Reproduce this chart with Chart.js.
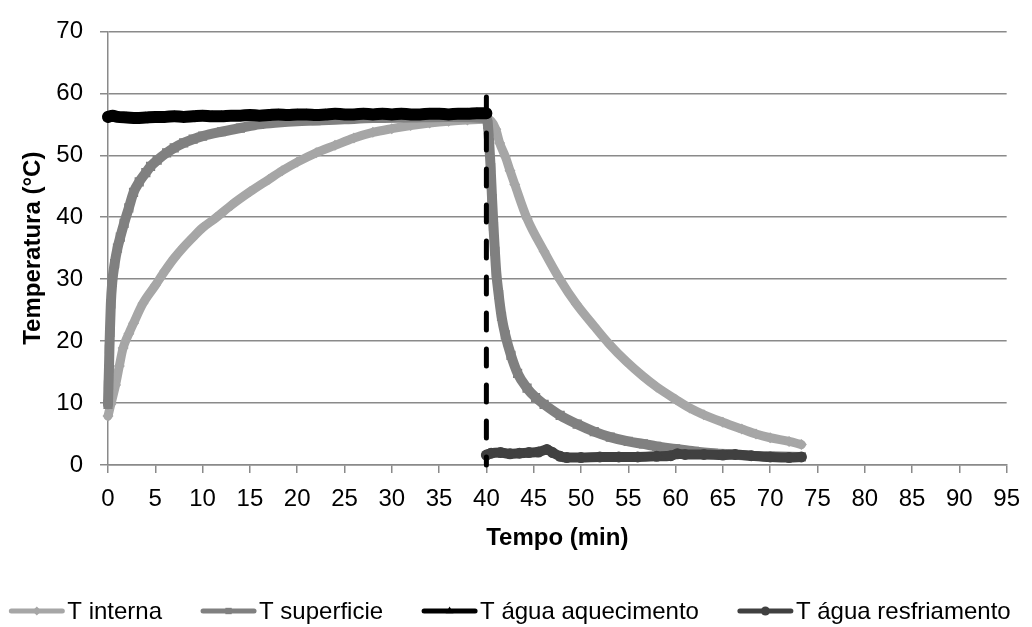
<!DOCTYPE html>
<html lang="pt">
<head>
<meta charset="utf-8">
<title>Temperatura x Tempo</title>
<script src="https://cdn.jsdelivr.net/npm/chart.js@4.4.1/dist/chart.umd.min.js"></script>
<style>
  html, body { margin: 0; padding: 0; background: #ffffff; }
  #grafico { display: block; }
</style>
</head>
<body>
<canvas id="grafico" width="1032" height="627"></canvas>
<script>
// ---- Dados (tempo em min, temperatura em °C) ----
const rotulosSeries = ['T interna', 'T superficie', 'T água aquecimento', 'T água resfriamento'];

const internaTempo = [0, 0.3, 0.8, 1.2, 1.6, 2.2, 2.7, 3.7, 5, 6, 7, 8, 9, 10, 11.4, 13, 15, 17, 18.4, 20,
  22, 24, 26, 28, 30, 32, 34, 36, 38, 40,
  40.5, 41, 41.4, 42, 42.5, 43, 44.3, 46.1, 47.8, 49.5, 51.4, 53, 54.8, 56.5, 58, 60, 61.5, 63, 65, 67,
  68.5, 70, 72, 73.3];
const internaValor = [7.9, 9.8, 12.9, 16, 18.9, 21.2, 22.9, 26.1, 29, 31.3, 33.4, 35.2, 36.8, 38.3, 39.9, 41.9, 44.1, 46.1, 47.5, 48.9,
  50.4, 51.6, 52.8, 53.7, 54.3, 54.8, 55.2, 55.5, 55.7, 55.8,
  55.5, 54.2, 52, 49.8, 47.5, 45.3, 39.8, 34.5, 29.9, 26, 22.4, 19.5, 16.7, 14.4, 12.6, 10.6, 9.2, 8.1, 6.9, 5.8,
  5.0, 4.4, 3.8, 3.3];

const superficieTempo = [0, 0.05, 0.1, 0.15, 0.2, 0.3, 0.45, 0.7, 1, 1.3, 1.7, 2.2, 2.7, 3.3, 4, 4.5, 5.2, 6.2, 7, 8,
  9, 10, 12, 14, 16, 18, 20, 22, 25, 28, 32, 36, 40,
  40.15, 40.3, 40.45, 40.6, 40.75, 40.9, 41.05, 41.3, 41.6, 42, 42.6, 43.3, 44.3, 45.2, 46.1, 47.8, 49.6, 51.4,
  53.1, 55, 56.6, 58, 60, 62, 64, 66, 68, 70, 73.3];
const superficieValor = [9.8, 12.9, 15.5, 18.7, 21.4, 26, 29.5, 32.5, 35, 36.8, 39, 41.5, 44, 45.7, 47.2, 48.2, 49.2, 50.4, 51.2, 52,
  52.6, 53.1, 53.8, 54.4, 55, 55.3, 55.5, 55.6, 55.8, 56, 56.1, 56.2, 56,
  55, 52, 48, 43, 38.5, 34.5, 31, 27.5, 24, 21, 17.7, 14.8, 12.4, 10.9, 9.8, 8.0, 6.6, 5.4,
  4.5, 3.8, 3.4, 3.0, 2.6, 2.2, 1.9, 1.7, 1.5, 1.4, 1.3];

const aquecimentoTempo = [0, 0.5, 1, 2, 3, 4, 5, 6, 7, 8, 9, 10, 11, 12, 13, 14, 15, 16, 17, 18, 19, 20,
  21, 22, 23, 24, 25, 26, 27, 28, 29, 30, 31, 32, 33, 34, 35, 36, 37, 38, 39, 40];
const aquecimentoValor = [56.2, 56.4, 56.2, 56.1, 56.0, 56.1, 56.2, 56.2, 56.3, 56.2, 56.3, 56.4, 56.3, 56.3, 56.4, 56.4, 56.5, 56.4, 56.5, 56.6, 56.5, 56.6,
  56.6, 56.5, 56.6, 56.7, 56.6, 56.6, 56.7, 56.6, 56.7, 56.6, 56.7, 56.6, 56.6, 56.7, 56.7, 56.6, 56.7, 56.7, 56.8, 56.8];

const resfriamentoTempo = [40, 40.5, 41.5, 42.5, 43.5, 44.5, 45.5, 46.4, 47, 47.8, 48.5, 50, 52, 54, 56, 58, 59.5,
  60.2, 61, 63, 65, 66.3, 68, 70, 72, 73.3];
const resfriamentoValor = [1.6, 1.9, 2.0, 1.8, 1.9, 2.0, 2.1, 2.5, 2.0, 1.4, 1.2, 1.2, 1.3, 1.3, 1.3, 1.4, 1.5,
  1.8, 1.7, 1.7, 1.6, 1.7, 1.5, 1.3, 1.2, 1.3];

// linha tracejada que marca a troca de banho
const trocaTempo = [40, 40];
const trocaValor = [59.4, 0];

const eixoXTicks = { min: 0, max: 95, passo: 5 };
const eixoYTicks = { min: 0, max: 70, passo: 10 };

// ---- Estilo ----
const FONTE = '"Liberation Sans", Arial, sans-serif';
const COR_GRADE = '#8a8a8a';
const cores = ['#a6a6a6', '#808080', '#000000', '#404040'];
const marcadores = ['rectRot', 'rect', 'triangle', 'circle'];

function pares(xs, ys) {
  return xs.map((x, i) => ({ x: x, y: ys[i] }));
}

function serie(indice, xs, ys, espessura, raio, ordem) {
  return {
    label: rotulosSeries[indice],
    data: pares(xs, ys),
    borderColor: cores[indice],
    backgroundColor: cores[indice],
    borderWidth: espessura,
    pointStyle: marcadores[indice],
    pointRadius: raio,
    pointBorderWidth: 0,
    pointBackgroundColor: cores[indice],
    pointHoverRadius: raio,
    cubicInterpolationMode: 'monotone',
    borderJoinStyle: 'round',
    borderCapStyle: 'round',
    order: ordem,
    clip: 10
  };
}

// Legenda desenhada na base do canvas: amostra de linha com marcador + texto
const legendaInferior = {
  id: 'legendaInferior',
  afterDraw(chart) {
    const ctx = chart.ctx;
    const itens = chart.data.datasets
      .map((d, i) => ({ d: d, i: i }))
      .filter(o => o.d.emLegenda)
      .sort((a, b) => a.d.posLegenda - b.d.posLegenda);
    const comprLinha = 55, folgaTexto = 3, folgaItens = 39;
    ctx.save();
    ctx.font = '24px ' + FONTE;
    const larguras = itens.map(o => comprLinha + folgaTexto + ctx.measureText(o.d.label).width);
    const total = larguras.reduce((a, b) => a + b, 0) + folgaItens * (itens.length - 1);
    let x = (chart.width - total) / 2 - 6;
    const y = chart.height - 16;
    itens.forEach((o, k) => {
      const d = o.d;
      ctx.strokeStyle = d.borderColor;
      ctx.lineWidth = 5;
      ctx.lineCap = 'round';
      ctx.beginPath();
      ctx.moveTo(x + 2, y);
      ctx.lineTo(x + comprLinha - 2, y);
      ctx.stroke();
      ctx.fillStyle = d.borderColor;
      Chart.helpers.drawPoint(ctx, { pointStyle: d.pointStyle, radius: 4.5, rotation: 0, borderWidth: 0 },
        x + comprLinha / 2, y);
      ctx.fillStyle = '#000000';
      ctx.textBaseline = 'middle';
      ctx.textAlign = 'left';
      ctx.fillText(d.label, x + comprLinha + folgaTexto, y + 1);
      x += larguras[k] + folgaItens;
    });
    ctx.restore();
  }
};

const conjuntos = [
  Object.assign(serie(0, internaTempo, internaValor, 9, 5.5, 4), { emLegenda: true, posLegenda: 0 }),
  Object.assign(serie(1, superficieTempo, superficieValor, 10, 6.5, 3), { emLegenda: true, posLegenda: 1 }),
  Object.assign(serie(2, aquecimentoTempo, aquecimentoValor, 12, 6, 2), { emLegenda: true, posLegenda: 2 }),
  Object.assign(serie(3, resfriamentoTempo, resfriamentoValor, 10, 5.5, 1), { emLegenda: true, posLegenda: 3 }),
  {
    label: '',
    data: pares(trocaTempo, trocaValor),
    borderColor: '#000000',
    borderWidth: 5,
    borderDash: [17, 19],
    borderCapStyle: 'round',
    pointRadius: 0,
    tension: 0,
    order: 0,
    emLegenda: false,
    clip: 10
  }
];

Chart.defaults.font.family = FONTE;
Chart.defaults.font.size = 24;
Chart.defaults.color = '#000000';

new Chart(document.getElementById('grafico'), {
  type: 'line',
  data: { datasets: conjuntos },
  plugins: [legendaInferior],
  options: {
    responsive: false,
    animation: false,
    events: [],
    layout: { padding: { left: 0, right: 19, top: 22, bottom: 67 } },
    plugins: {
      legend: { display: false },
      tooltip: { enabled: false }
    },
    scales: {
      x: {
        type: 'linear',
        min: eixoXTicks.min,
        max: eixoXTicks.max,
        ticks: { stepSize: eixoXTicks.passo, padding: 12, maxRotation: 0, autoSkip: false, color: '#000000' },
        grid: { drawOnChartArea: false, drawTicks: true, tickLength: 8, color: COR_GRADE, lineWidth: 1.5 },
        border: { display: true, color: COR_GRADE, width: 1.5 },
        title: { display: true, text: 'Tempo (min)', font: { weight: 'bold', size: 24 }, color: '#000000',
          padding: { top: 0, bottom: 7 } },
        afterFit(escala) { escala.height = 95; }
      },
      y: {
        type: 'linear',
        min: eixoYTicks.min,
        max: eixoYTicks.max,
        ticks: { stepSize: eixoYTicks.passo, padding: 17, color: '#000000' },
        grid: { drawOnChartArea: true, drawTicks: true, tickLength: 8, color: COR_GRADE, lineWidth: 1.5 },
        border: { display: true, color: COR_GRADE, width: 1.5 },
        title: { display: true, text: 'Temperatura (°C)', font: { weight: 'bold', size: 24 }, color: '#000000',
          padding: { top: 19, bottom: 0 } },
        afterFit(escala) { escala.width = 108; }
      }
    }
  }
});
</script>
</body>
</html>
